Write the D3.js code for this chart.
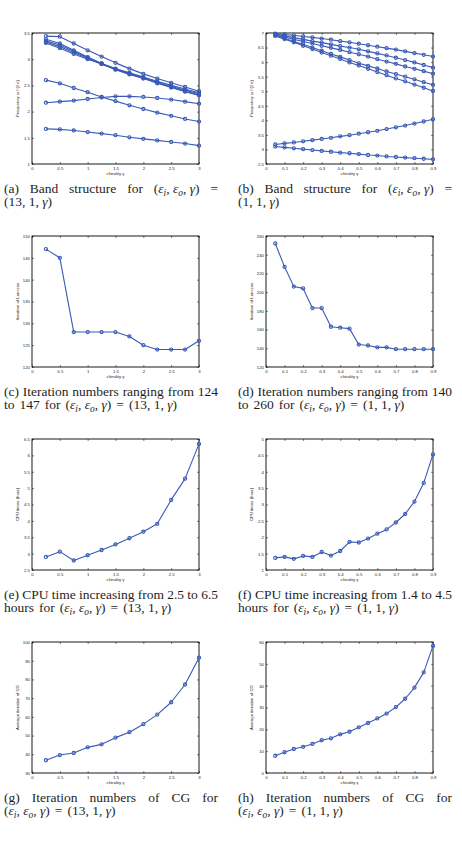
<!DOCTYPE html>
<html>
<head>
<meta charset="utf-8">
<script src="https://cdn.jsdelivr.net/npm/d3@7"></script>
<style>
body { margin: 0; background: #fff; }
svg { display: block; }
</style>
</head>
<body>
<svg id="fig" width="462" height="841"></svg>
<script>
// chirality values used in the two parameter sets
var gamma13 = [0.25, 0.5, 0.75, 1, 1.25, 1.5, 1.75, 2, 2.25, 2.5, 2.75, 3];
var gamma1 = [0.05, 0.1, 0.15, 0.2, 0.25, 0.3, 0.35, 0.4, 0.45, 0.5, 0.55, 0.6, 0.65, 0.7, 0.75, 0.8, 0.85, 0.9];

var ticks13 = [0, 0.5, 1, 1.5, 2, 2.5, 3];
var ticks1 = [0, 0.1, 0.2, 0.3, 0.4, 0.5, 0.6, 0.7, 0.8, 0.9];

// (a) band structure, (13,1,gamma)
var bandA = [
    [3.44, 3.43, 3.30, 3.17, 3.05, 2.93, 2.82, 2.72, 2.63, 2.55, 2.47, 2.39],
    [3.38, 3.30, 3.17, 3.04, 2.92, 2.82, 2.74, 2.66, 2.58, 2.50, 2.43, 2.36],
    [3.35, 3.27, 3.15, 3.03, 2.92, 2.81, 2.73, 2.65, 2.56, 2.48, 2.41, 2.34],
    [3.33, 3.24, 3.13, 3.02, 2.91, 2.81, 2.72, 2.64, 2.55, 2.47, 2.39, 2.32],
    [3.31, 3.21, 3.10, 3.00, 2.91, 2.80, 2.71, 2.63, 2.54, 2.46, 2.38, 2.31],
    [2.60, 2.54, 2.45, 2.37, 2.28, 2.20, 2.12, 2.05, 1.98, 1.92, 1.86, 1.81],
    [2.17, 2.19, 2.21, 2.24, 2.27, 2.29, 2.29, 2.28, 2.26, 2.23, 2.19, 2.15],
    [1.67, 1.66, 1.64, 1.61, 1.58, 1.55, 1.51, 1.48, 1.45, 1.42, 1.39, 1.35]
];

// (b) band structure, (1,1,gamma)
var bandB = [
    [6.98, 6.95, 6.92, 6.88, 6.85, 6.81, 6.77, 6.72, 6.68, 6.63, 6.58, 6.53, 6.48, 6.43, 6.37, 6.31, 6.25, 6.19],
    [6.96, 6.90, 6.84, 6.78, 6.72, 6.67, 6.61, 6.55, 6.50, 6.44, 6.37, 6.30, 6.23, 6.15, 6.07, 5.99, 5.90, 5.81],
    [6.93, 6.86, 6.78, 6.71, 6.64, 6.56, 6.49, 6.42, 6.34, 6.27, 6.19, 6.10, 6.02, 5.94, 5.85, 5.77, 5.69, 5.60],
    [6.93, 6.82, 6.71, 6.61, 6.50, 6.39, 6.28, 6.18, 6.07, 5.96, 5.87, 5.78, 5.68, 5.59, 5.50, 5.41, 5.31, 5.22],
    [6.90, 6.79, 6.68, 6.56, 6.45, 6.33, 6.22, 6.11, 5.99, 5.88, 5.77, 5.66, 5.55, 5.44, 5.34, 5.23, 5.12, 5.01],
    [3.17, 3.21, 3.24, 3.28, 3.32, 3.36, 3.40, 3.45, 3.49, 3.54, 3.59, 3.64, 3.70, 3.76, 3.82, 3.89, 3.96, 4.04],
    [3.10, 3.07, 3.04, 3.01, 2.98, 2.95, 2.92, 2.89, 2.87, 2.84, 2.81, 2.79, 2.76, 2.74, 2.72, 2.70, 2.68, 2.66]
];

var lanczosA = [147, 145, 128, 128, 128, 128, 127, 125, 124, 124, 124, 126];
var lanczosB = [252, 227, 206, 204, 183, 183, 163, 162, 161, 144, 143, 141, 141, 139, 139, 139, 139, 139];

var cpuA = [2.90, 3.06, 2.79, 2.95, 3.11, 3.28, 3.47, 3.67, 3.91, 4.64, 5.29, 6.35];
var cpuB = [1.37, 1.40, 1.34, 1.43, 1.40, 1.55, 1.44, 1.58, 1.86, 1.84, 1.96, 2.11, 2.24, 2.45, 2.71, 3.09, 3.66, 4.53];

var cgA = [36.8, 39.6, 40.7, 43.7, 45.3, 48.9, 51.8, 56.1, 61.2, 67.8, 77.3, 91.6];
var cgB = [7.9, 9.5, 11.0, 12.0, 13.3, 15.0, 15.9, 17.7, 18.9, 20.9, 22.9, 25.0, 27.2, 30.2, 34.0, 39.1, 46.1, 58.2];

var yTicksA = [1, 1.5, 2, 2.5, 3, 3.5];
var yTicksB = [2.5, 3, 3.5, 4, 4.5, 5, 5.5, 6, 6.5, 7];
var yTicksC = [120, 125, 130, 135, 140, 145, 150];
var yTicksD = [120, 140, 160, 180, 200, 220, 240, 260];
var yTicksE = [2.5, 3, 3.5, 4, 4.5, 5, 5.5, 6, 6.5];
var yTicksF = [1, 1.5, 2, 2.5, 3, 3.5, 4, 4.5, 5];
var yTicksG = [30, 40, 50, 60, 70, 80, 90, 100];
var yTicksH = [0, 10, 20, 30, 40, 50, 60];

var yLabels = ['Frequency \u03c9 / (2\u03c0)', 'Iteration of Lanczos', 'CPU times (hour)', 'Average iteration of CG'];

// captions: '~' keeps words together, '_' makes the next char a subscript
var captions = [
    ['(a) Band structure for (\u03b5_i,~\u03b5_o,~\u03b3) =', '(13,~1,~\u03b3)'],
    ['(b) Band structure for (\u03b5_i,~\u03b5_o,~\u03b3) =', '(1,~1,~\u03b3)'],
    ['(c) Iteration numbers ranging from 124', 'to 147 for (\u03b5_i,~\u03b5_o,~\u03b3) = (13,~1,~\u03b3)'],
    ['(d) Iteration numbers ranging from 140', 'to 260 for (\u03b5_i,~\u03b5_o,~\u03b3) = (1,~1,~\u03b3)'],
    ['(e) CPU time increasing from 2.5 to 6.5', 'hours for (\u03b5_i,~\u03b5_o,~\u03b3) = (13,~1,~\u03b3)'],
    ['(f) CPU time increasing from 1.4 to 4.5', 'hours for (\u03b5_i,~\u03b5_o,~\u03b3) = (1,~1,~\u03b3)'],
    ['(g) Iteration numbers of CG for', '(\u03b5_i,~\u03b5_o,~\u03b3) = (13,~1,~\u03b3)'],
    ['(h) Iteration numbers of CG for', '(\u03b5_i,~\u03b5_o,~\u03b3) = (1,~1,~\u03b3)']
];

var blue = '#3a5ab6';
var svg = d3.select('#fig');

var cols = [{x0: 32, x1: 199, cx: 4}, {x0: 266, x1: 433, cx: 238}];
var rowTop = [33, 236, 439, 642];
var plotH = 131;

var panels = [
    {xs: gamma13, xt: ticks13, xd: [0, 3],   series: bandA, yd: [1, 3.5],   yt: yTicksA},
    {xs: gamma1,  xt: ticks1,  xd: [0, 0.9], series: bandB, yd: [2.5, 7],   yt: yTicksB},
    {xs: gamma13, xt: ticks13, xd: [0, 3],   series: [lanczosA], yd: [120, 150], yt: yTicksC},
    {xs: gamma1,  xt: ticks1,  xd: [0, 0.9], series: [lanczosB], yd: [120, 260], yt: yTicksD},
    {xs: gamma13, xt: ticks13, xd: [0, 3],   series: [cpuA], yd: [2.5, 6.5], yt: yTicksE},
    {xs: gamma1,  xt: ticks1,  xd: [0, 0.9], series: [cpuB], yd: [1, 5],     yt: yTicksF},
    {xs: gamma13, xt: ticks13, xd: [0, 3],   series: [cgA], yd: [30, 100],  yt: yTicksG},
    {xs: gamma1,  xt: ticks1,  xd: [0, 0.9], series: [cgB], yd: [0, 60],    yt: yTicksH}
];

function styleAxis(sel, showText) {
    sel.select('.domain').remove();
    sel.selectAll('.tick line').attr('stroke', '#000').attr('stroke-width', 0.5);
    sel.selectAll('.tick text')
        .attr('font-family', 'Liberation Sans, Arial, sans-serif')
        .attr('font-size', 4.3)
        .attr('fill', '#222')
        .style('display', showText ? null : 'none');
}

function drawPanel(p, i) {
    var col = cols[i % 2],
        top = rowTop[Math.floor(i / 2)],
        bottom = top + plotH;
    var x = d3.scaleLinear().domain(p.xd).range([col.x0, col.x1]);
    var y = d3.scaleLinear().domain(p.yd).range([bottom, top]);
    var fmt = function (d) { return String(d); };
    var g = svg.append('g');

    g.append('g').attr('transform', 'translate(0,' + bottom + ')')
        .call(d3.axisBottom(x).tickValues(p.xt).tickSize(-2).tickPadding(2.5).tickFormat(fmt))
        .call(styleAxis, true);
    g.append('g').attr('transform', 'translate(0,' + top + ')')
        .call(d3.axisTop(x).tickValues(p.xt).tickSize(-2))
        .call(styleAxis, false);
    g.append('g').attr('transform', 'translate(' + col.x0 + ',0)')
        .call(d3.axisLeft(y).tickValues(p.yt).tickSize(-2).tickPadding(2).tickFormat(fmt))
        .call(styleAxis, true);
    g.append('g').attr('transform', 'translate(' + col.x1 + ',0)')
        .call(d3.axisRight(y).tickValues(p.yt).tickSize(-2))
        .call(styleAxis, false);

    g.append('rect')
        .attr('x', col.x0).attr('y', top)
        .attr('width', col.x1 - col.x0).attr('height', plotH)
        .attr('fill', 'none').attr('stroke', '#000').attr('stroke-width', 0.9);

    g.append('text')
        .attr('x', (col.x0 + col.x1) / 2).attr('y', bottom + 11)
        .attr('text-anchor', 'middle')
        .attr('font-family', 'Liberation Sans, Arial, sans-serif')
        .attr('font-size', 4.3).attr('fill', '#222')
        .text('chirality \u03b3');

    g.append('text')
        .attr('transform', 'translate(' + (col.x0 - 13) + ',' + (top + plotH / 2) + ') rotate(-90)')
        .attr('text-anchor', 'middle')
        .attr('font-family', 'Liberation Sans, Arial, sans-serif')
        .attr('font-size', 4.3).attr('fill', '#222')
        .text(yLabels[Math.floor(i / 2)]);

    var line = d3.line()
        .x(function (d, k) { return x(p.xs[k]); })
        .y(function (d) { return y(d); });

    p.series.forEach(function (s) {
        g.append('path').datum(s)
            .attr('d', line)
            .attr('fill', 'none')
            .attr('stroke', blue)
            .attr('stroke-width', 1.1)
            .attr('stroke-linejoin', 'round');
        g.selectAll(null).data(s).enter().append('circle')
            .attr('cx', function (d, k) { return x(p.xs[k]); })
            .attr('cy', function (d) { return y(d); })
            .attr('r', 1.6)
            .attr('fill', 'none')
            .attr('stroke', blue)
            .attr('stroke-width', 1.1);
    });
}

// one caption word as a text element with italic greek and subscripts
function addWord(g, word, x, yb) {
    var t = g.append('text').attr('x', x).attr('y', yb),
        pending = 0, buf = '';
    function seg(txt, italic, sub) {
        var s = t.append('tspan').text(txt);
        var dy = pending + (sub ? 3 : 0);
        if (dy) s.attr('dy', dy);
        pending = sub ? -3 : 0;
        if (italic) s.attr('font-style', 'italic');
        if (sub) s.attr('font-size', '70%');
    }
    function flush() { if (buf) { seg(buf, false, false); buf = ''; } }
    for (var i = 0; i < word.length; i++) {
        var c = word[i];
        if (c === '~') {
            flush();
            seg('\u00a0', false, false);
        } else if (c === '_') {
            flush();
            seg(word[++i], true, true);
        } else if (c === '\u03b5' || c === '\u03b3') {
            flush();
            seg(c, true, false);
        } else {
            buf += c;
        }
    }
    flush();
    return t;
}

function drawCaptionLine(g, str, x, yb, width, justify) {
    var words = str.split(' ').map(function (w) { return addWord(g, w, 0, yb); });
    var widths = words.map(function (t) { return t.node().getComputedTextLength(); });
    var total = d3.sum(widths);
    var gap = justify && words.length > 1 ? (width - total) / (words.length - 1) : 5;
    var pos = x;
    words.forEach(function (t, k) {
        t.attr('x', pos);
        pos += widths[k] + gap;
    });
}

panels.forEach(drawPanel);

captions.forEach(function (c, i) {
    var col = cols[i % 2],
        yb = rowTop[Math.floor(i / 2)] + 159.5;
    var g = svg.append('g')
        .attr('font-family', 'Liberation Serif, DejaVu Serif, serif')
        .attr('font-size', 13.5)
        .attr('fill', '#1e1e1e');
    drawCaptionLine(g, c[0], col.cx, yb, 214, true);
    drawCaptionLine(g, c[1], col.cx, yb + 13.7, 214, false);
});
</script>
</body>
</html>
